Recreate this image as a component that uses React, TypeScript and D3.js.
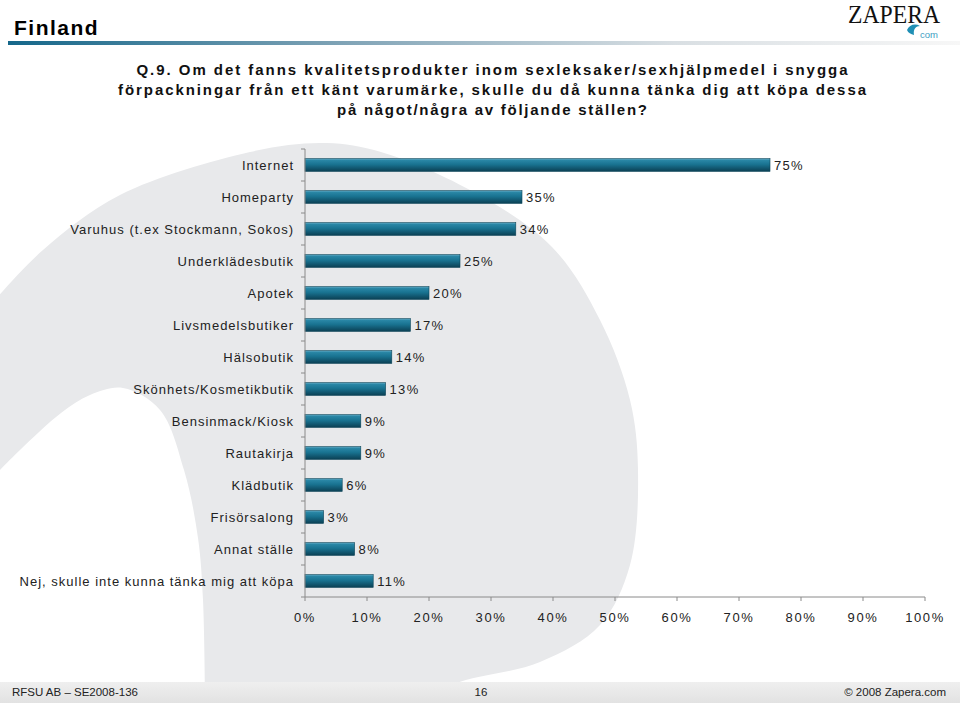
import React from 'react';
import * as d3 from 'd3';

const categories = [
  'Internet',
  'Homeparty',
  'Varuhus (t.ex Stockmann, Sokos)',
  'Underklädesbutik',
  'Apotek',
  'Livsmedelsbutiker',
  'Hälsobutik',
  'Skönhets/Kosmetikbutik',
  'Bensinmack/Kiosk',
  'Rautakirja',
  'Klädbutik',
  'Frisörsalong',
  'Annat ställe',
  'Nej, skulle inte kunna tänka mig att köpa',
];
const values = [75, 35, 34, 25, 20, 17, 14, 13, 9, 9, 6, 3, 8, 11];
const xTicks = [0, 10, 20, 30, 40, 50, 60, 70, 80, 90, 100];
const questionLines = [
  'Q.9. Om det fanns kvalitetsprodukter inom sexleksaker/sexhjälpmedel i snygga',
  'förpackningar från ett känt varumärke, skulle du då kunna tänka dig att köpa dessa',
  'på något/några av följande ställen?',
];
const titleText = 'Finland';
const footerLeft = 'RFSU AB – SE2008-136';
const footerMid = '16';
const footerRight = '© 2008 Zapera.com';

const W = 960;
const H = 703;
const M = { left: 305, right: 925, top: 149, bottom: 597 };

const bgOuter: [number, number][] = [
  [-5, 300], [43, 250], [120, 195], [250, 152], [320, 143], [374, 150], [470, 190],
  [552, 247], [600, 320], [630, 400], [638, 470], [630, 565], [600, 625], [540, 662],
  [454, 684], [420, 705],
];
const bgInner: [number, number][] = [
  [205, 705], [203, 600], [198, 538], [184, 470], [160, 410], [123, 388], [90, 395],
  [61, 413], [20, 450], [-5, 475],
];

export default function App() {
  const x = d3.scaleLinear().domain([0, 100]).range([M.left, M.right]);
  const y = d3
    .scaleBand<string>()
    .domain(categories)
    .range([M.top, M.bottom])
    .paddingInner(0.6)
    .paddingOuter(0.3);
  const step = y.step();

  const line = d3.line().curve(d3.curveCatmullRom);
  const outerPath = line(bgOuter) || '';
  const innerPath = (line(bgInner) || '').replace(/^M/, 'L');
  const bgPath = outerPath + innerPath + 'Z';

  const labelFont = '"Liberation Sans", Arial, sans-serif';
  const narrowFont = '"Liberation Sans Narrow", "Arial Narrow", "Liberation Sans", Arial, sans-serif';
  const qWidths = [711, 748, 310];
  const qCenter = 492;

  return (
    <svg
      width={W}
      height={H}
      viewBox={`0 0 ${W} ${H}`}
      style={{ position: 'absolute', left: 0, top: 0, background: '#fff' }}
    >
      <defs>
        <linearGradient id="barGrad" x1="0" y1="0" x2="0" y2="1">
          <stop offset="0" stopColor="#6fb3cc" />
          <stop offset="0.12" stopColor="#2a87a6" />
          <stop offset="0.45" stopColor="#197391" />
          <stop offset="1" stopColor="#0b4054" />
        </linearGradient>
        <linearGradient id="titleGrad" x1="0" y1="0" x2="1" y2="0">
          <stop offset="0" stopColor="#15678a" />
          <stop offset="0.35" stopColor="#7fa3b6" />
          <stop offset="0.7" stopColor="#d9dfe3" />
          <stop offset="1" stopColor="#f7f7f7" />
        </linearGradient>
        <linearGradient id="footGrad" x1="0" y1="0" x2="0" y2="1">
          <stop offset="0" stopColor="#efefef" />
          <stop offset="1" stopColor="#e2e2e2" />
        </linearGradient>
      </defs>

      {/* background decoration */}
      <path d={bgPath} fill="#e8e9eb" />

      {/* header */}
      <text x={14} y={35} fontFamily={labelFont} fontWeight="bold" fontSize={21} letterSpacing={1.5} fill="#000">
        {titleText}
      </text>
      <rect x={8} y={41} width={952} height={4} fill="url(#titleGrad)" />

      {/* logo */}
      <text
        x={848}
        y={23}
        fontFamily='"Liberation Serif", "DejaVu Serif", serif'
        fontSize={25}
        fill="#111"
        textLength={92}
        lengthAdjust="spacingAndGlyphs"
      >
        ZAPERA
      </text>
      <path d="M907,30 C909,25 915,23 920,26 C916,26 913,29 914,35 C911,34 908,33 907,30 Z" fill="#1f8fb5" />
      <text x={920} y={38} fontFamily={labelFont} fontSize={9.5} fill="#3d9ec2">
        com
      </text>

      {/* question */}
      {questionLines.map((q, i) => (
        <text
          key={i}
          x={qCenter}
          y={75 + i * 20}
          textAnchor="middle"
          fontFamily={narrowFont}
          fontWeight="bold"
          fontSize={15}
          fill="#111"
          textLength={qWidths[i]}
          lengthAdjust="spacing"
        >
          {q}
        </text>
      ))}

      {/* bars */}
      {categories.map((c, i) => (
        <g key={c}>
          <rect
            x={x(0)}
            y={y(c)!}
            width={x(values[i]) - x(0)}
            height={y.bandwidth()}
            fill="url(#barGrad)"
            stroke="#0c4558"
            strokeWidth={0.6}
          />
          <text
            x={x(values[i]) + 4}
            y={y(c)! + y.bandwidth() / 2 + 5}
            fontFamily={labelFont}
            fontSize={13}
            letterSpacing={1.3}
            fill="#222"
          >
            {values[i]}%
          </text>
          <text
            x={M.left - 11}
            y={y(c)! + y.bandwidth() / 2 + 5}
            textAnchor="end"
            fontFamily={labelFont}
            fontSize={13}
            letterSpacing={1.0}
            fill="#222"
          >
            {c}
          </text>
        </g>
      ))}

      {/* y axis */}
      <line x1={M.left} x2={M.left} y1={M.top} y2={M.bottom} stroke="#8a8a8a" strokeWidth={1} />
      {d3.range(categories.length + 1).map((i) => (
        <line
          key={i}
          x1={M.left - 4}
          x2={M.left}
          y1={M.top + i * step}
          y2={M.top + i * step}
          stroke="#8a8a8a"
          strokeWidth={1}
        />
      ))}

      {/* x axis */}
      <line x1={M.left} x2={M.right} y1={M.bottom} y2={M.bottom} stroke="#8a8a8a" strokeWidth={1} />
      {xTicks.map((t) => (
        <g key={t}>
          <line x1={x(t)} x2={x(t)} y1={M.bottom} y2={M.bottom + 4} stroke="#8a8a8a" strokeWidth={1} />
          <text
            x={x(t)}
            y={622}
            textAnchor="middle"
            fontFamily={labelFont}
            fontSize={13}
            letterSpacing={1.6}
            fill="#222"
          >
            {t}%
          </text>
        </g>
      ))}

      {/* footer */}
      <rect x={0} y={682} width={W} height={21} fill="url(#footGrad)" />
      <text x={12} y={696} fontFamily={labelFont} fontSize={11.5} fill="#222">
        {footerLeft}
      </text>
      <text x={481} y={696} textAnchor="middle" fontFamily={labelFont} fontSize={11.5} fill="#222">
        {footerMid}
      </text>
      <text x={946} y={696} textAnchor="end" fontFamily={labelFont} fontSize={11.5} fill="#222">
        {footerRight}
      </text>
    </svg>
  );
}
